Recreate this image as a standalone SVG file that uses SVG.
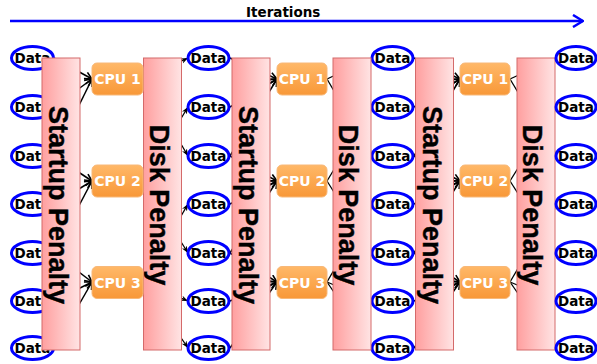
<svg xmlns="http://www.w3.org/2000/svg" width="597" height="364" viewBox="0 0 597 364">
  <style>
    .data ellipse { fill: #ffffff; stroke: #0000ff; stroke-width: 3; }
    .data text { font-family: "DejaVu Sans", Verdana, sans-serif; font-weight: bold; font-size: 13.5px; fill: #000; text-anchor: middle; }
    .penalty rect { fill: url(#pinkGrad); stroke: #d46a6a; stroke-width: 1; }
    .penalty text { font-family: "Liberation Sans", Arial, sans-serif; font-weight: bold; font-size: 27px; fill: #000; text-anchor: middle; stroke: #000; stroke-width: 0.4; }
    .cpu rect { fill: url(#orangeGrad); stroke: #f8b878; stroke-width: 1; }
    .cpu text { font-family: "DejaVu Sans", Verdana, sans-serif; font-weight: bold; font-size: 14px; fill: #ffffff; text-anchor: middle; }
    .in { stroke: #000; stroke-width: 1.5; fill: none; marker-end: url(#vee); }
    .out { stroke: #000; stroke-width: 1.3; fill: none; marker-end: url(#barb); }
    .title { font-family: "DejaVu Sans", Verdana, sans-serif; font-weight: bold; font-size: 13.5px; fill: #000; }
  </style>
  <defs>
    <linearGradient id="pinkGrad" x1="0" y1="0" x2="1" y2="0">
      <stop offset="0" stop-color="#ff9f9f"/>
      <stop offset="1" stop-color="#ffe4e4"/>
    </linearGradient>
    <linearGradient id="orangeGrad" x1="0" y1="0" x2="0" y2="1">
      <stop offset="0" stop-color="#ffb868"/>
      <stop offset="1" stop-color="#f89838"/>
    </linearGradient>
    <marker id="vee" viewBox="0 0 10 10" refX="9" refY="5" markerWidth="9" markerHeight="9" orient="auto" markerUnits="userSpaceOnUse">
      <path d="M1,1 L9,5 L1,9" fill="none" stroke="#000" stroke-width="1.8"/>
    </marker>
    <marker id="barb" viewBox="0 0 10 10" refX="10" refY="5" markerWidth="7" markerHeight="7" orient="auto" markerUnits="userSpaceOnUse">
      <path d="M0,1 L10,5 L0,9 L3,5 z" fill="#000"/>
    </marker>
    <marker id="blueHead" viewBox="0 0 12 14" refX="11" refY="7" markerWidth="12" markerHeight="14" orient="auto" markerUnits="userSpaceOnUse">
      <path d="M1,1 L11,7 L1,13" fill="none" stroke="#0000ff" stroke-width="2.5"/>
    </marker>
  </defs>

  <rect width="597" height="364" fill="#ffffff"/>

  <!-- iteration axis -->
  <g id="iterations">
    <text class="title" x="246" y="17">Iterations</text>
    <line x1="10" y1="21" x2="583" y2="21" stroke="#0000ff" stroke-width="2.5" marker-end="url(#blueHead)"/>
  </g>

  <!-- connectors (drawn first so the penalty bars cover their middle parts) -->
  <g id="connectors">
    <!-- data column 1 to CPUs A -->
    <path class="in" d="M54,58 L92,79"/>
    <path class="in" d="M54,107 L92,79"/>
    <path class="in" d="M54,156 L92,79"/>
    <path class="in" d="M54,156 L92,181"/>
    <path class="in" d="M54,204 L92,181"/>
    <path class="in" d="M54,253 L92,181"/>
    <path class="in" d="M54,253 L92,282"/>
    <path class="in" d="M54,301 L92,282"/>
    <path class="in" d="M54,348 L92,282"/>
    <!-- CPUs A to data column 2 -->
    <path class="out" d="M143,79 L188,58"/>
    <path class="out" d="M143,181 L188,107"/>
    <path class="out" d="M143,79 L188,156"/>
    <path class="out" d="M143,282 L188,204"/>
    <path class="out" d="M143,181 L188,253"/>
    <path class="out" d="M143,282 L188,301"/>
    <path class="out" d="M143,282 L188,348"/>
    <!-- data column 2 to CPUs B -->
    <path class="in" d="M230,58 L277,79"/>
    <path class="in" d="M230,107 L277,79"/>
    <path class="in" d="M230,156 L277,79"/>
    <path class="in" d="M230,156 L277,181"/>
    <path class="in" d="M230,204 L277,181"/>
    <path class="in" d="M230,253 L277,181"/>
    <path class="in" d="M230,253 L277,282"/>
    <path class="in" d="M230,301 L277,282"/>
    <path class="in" d="M230,348 L277,282"/>
    <!-- CPUs B to data column 3 -->
    <path class="out" d="M327,79 L372,58"/>
    <path class="out" d="M327,181 L372,107"/>
    <path class="out" d="M327,79 L372,156"/>
    <path class="out" d="M327,282 L372,204"/>
    <path class="out" d="M327,181 L372,253"/>
    <path class="out" d="M327,282 L372,301"/>
    <path class="out" d="M327,282 L372,348"/>
    <!-- data column 3 to CPUs C -->
    <path class="in" d="M414,58 L460,79"/>
    <path class="in" d="M414,107 L460,79"/>
    <path class="in" d="M414,156 L460,79"/>
    <path class="in" d="M414,156 L460,181"/>
    <path class="in" d="M414,204 L460,181"/>
    <path class="in" d="M414,253 L460,181"/>
    <path class="in" d="M414,253 L460,282"/>
    <path class="in" d="M414,301 L460,282"/>
    <path class="in" d="M414,348 L460,282"/>
    <!-- CPUs C to data column 4 -->
    <path class="out" d="M510,79 L556,58"/>
    <path class="out" d="M510,181 L556,107"/>
    <path class="out" d="M510,79 L556,156"/>
    <path class="out" d="M510,282 L556,204"/>
    <path class="out" d="M510,181 L556,253"/>
    <path class="out" d="M510,282 L556,301"/>
    <path class="out" d="M510,282 L556,348"/>
  </g>

  <!-- data column 1 -->
  <g id="data-1-1" class="data"><ellipse cx="32.5" cy="58" rx="21" ry="11.5"/><text x="32.5" y="62.5">Data</text></g>
  <g id="data-1-2" class="data"><ellipse cx="32.5" cy="107" rx="21" ry="11.5"/><text x="32.5" y="111.5">Data</text></g>
  <g id="data-1-3" class="data"><ellipse cx="32.5" cy="156" rx="21" ry="11.5"/><text x="32.5" y="160.5">Data</text></g>
  <g id="data-1-4" class="data"><ellipse cx="32.5" cy="204" rx="21" ry="11.5"/><text x="32.5" y="208.5">Data</text></g>
  <g id="data-1-5" class="data"><ellipse cx="32.5" cy="253" rx="21" ry="11.5"/><text x="32.5" y="257.5">Data</text></g>
  <g id="data-1-6" class="data"><ellipse cx="32.5" cy="301" rx="21" ry="11.5"/><text x="32.5" y="305.5">Data</text></g>
  <g id="data-1-7" class="data"><ellipse cx="32.5" cy="348" rx="21" ry="11.5"/><text x="32.5" y="352.5">Data</text></g>

  <!-- data column 2 -->
  <g id="data-2-1" class="data"><ellipse cx="208.5" cy="58" rx="20.5" ry="11.5"/><text x="208.5" y="62.5">Data</text></g>
  <g id="data-2-2" class="data"><ellipse cx="208.5" cy="107" rx="20.5" ry="11.5"/><text x="208.5" y="111.5">Data</text></g>
  <g id="data-2-3" class="data"><ellipse cx="208.5" cy="156" rx="20.5" ry="11.5"/><text x="208.5" y="160.5">Data</text></g>
  <g id="data-2-4" class="data"><ellipse cx="208.5" cy="204" rx="20.5" ry="11.5"/><text x="208.5" y="208.5">Data</text></g>
  <g id="data-2-5" class="data"><ellipse cx="208.5" cy="253" rx="20.5" ry="11.5"/><text x="208.5" y="257.5">Data</text></g>
  <g id="data-2-6" class="data"><ellipse cx="208.5" cy="301" rx="20.5" ry="11.5"/><text x="208.5" y="305.5">Data</text></g>
  <g id="data-2-7" class="data"><ellipse cx="208.5" cy="348" rx="20.5" ry="11.5"/><text x="208.5" y="352.5">Data</text></g>

  <!-- data column 3 -->
  <g id="data-3-1" class="data"><ellipse cx="392.5" cy="58" rx="20.5" ry="11.5"/><text x="392.5" y="62.5">Data</text></g>
  <g id="data-3-2" class="data"><ellipse cx="392.5" cy="107" rx="20.5" ry="11.5"/><text x="392.5" y="111.5">Data</text></g>
  <g id="data-3-3" class="data"><ellipse cx="392.5" cy="156" rx="20.5" ry="11.5"/><text x="392.5" y="160.5">Data</text></g>
  <g id="data-3-4" class="data"><ellipse cx="392.5" cy="204" rx="20.5" ry="11.5"/><text x="392.5" y="208.5">Data</text></g>
  <g id="data-3-5" class="data"><ellipse cx="392.5" cy="253" rx="20.5" ry="11.5"/><text x="392.5" y="257.5">Data</text></g>
  <g id="data-3-6" class="data"><ellipse cx="392.5" cy="301" rx="20.5" ry="11.5"/><text x="392.5" y="305.5">Data</text></g>
  <g id="data-3-7" class="data"><ellipse cx="392.5" cy="348" rx="20.5" ry="11.5"/><text x="392.5" y="352.5">Data</text></g>

  <!-- penalty bars -->
  <g id="startup-1" class="penalty"><rect x="42" y="58" width="38" height="292"/><text transform="translate(49,205) rotate(90)">Startup Penalty</text></g>
  <g id="disk-1" class="penalty"><rect x="143.5" y="58" width="38" height="292"/><text transform="translate(149.5,205) rotate(90)">Disk Penalty</text></g>
  <g id="startup-2" class="penalty"><rect x="232" y="58" width="38" height="292"/><text transform="translate(239,205) rotate(90)">Startup Penalty</text></g>
  <g id="disk-2" class="penalty"><rect x="333" y="58" width="38" height="292"/><text transform="translate(339,205) rotate(90)">Disk Penalty</text></g>
  <g id="startup-3" class="penalty"><rect x="415.5" y="58" width="38" height="292"/><text transform="translate(422.5,205) rotate(90)">Startup Penalty</text></g>
  <g id="disk-3" class="penalty"><rect x="517" y="58" width="38" height="292"/><text transform="translate(523,205) rotate(90)">Disk Penalty</text></g>

  <!-- data column 4 -->
  <g id="data-4-1" class="data"><ellipse cx="576" cy="58" rx="20" ry="11.5"/><text x="576" y="62.5">Data</text></g>
  <g id="data-4-2" class="data"><ellipse cx="576" cy="107" rx="20" ry="11.5"/><text x="576" y="111.5">Data</text></g>
  <g id="data-4-3" class="data"><ellipse cx="576" cy="156" rx="20" ry="11.5"/><text x="576" y="160.5">Data</text></g>
  <g id="data-4-4" class="data"><ellipse cx="576" cy="204" rx="20" ry="11.5"/><text x="576" y="208.5">Data</text></g>
  <g id="data-4-5" class="data"><ellipse cx="576" cy="253" rx="20" ry="11.5"/><text x="576" y="257.5">Data</text></g>
  <g id="data-4-6" class="data"><ellipse cx="576" cy="301" rx="20" ry="11.5"/><text x="576" y="305.5">Data</text></g>
  <g id="data-4-7" class="data"><ellipse cx="576" cy="348" rx="20" ry="11.5"/><text x="576" y="352.5">Data</text></g>

  <!-- CPU boxes -->
  <g id="cpu-a1" class="cpu"><rect x="92" y="63" width="51" height="32" rx="5"/><text x="117.5" y="84">CPU 1</text></g>
  <g id="cpu-a2" class="cpu"><rect x="92" y="165" width="51" height="32" rx="5"/><text x="117.5" y="186">CPU 2</text></g>
  <g id="cpu-a3" class="cpu"><rect x="92" y="266.5" width="51" height="32" rx="5"/><text x="117.5" y="287.5">CPU 3</text></g>
  <g id="cpu-b1" class="cpu"><rect x="277" y="63" width="50" height="32" rx="5"/><text x="302" y="84">CPU 1</text></g>
  <g id="cpu-b2" class="cpu"><rect x="277" y="165" width="50" height="32" rx="5"/><text x="302" y="186">CPU 2</text></g>
  <g id="cpu-b3" class="cpu"><rect x="277" y="266.5" width="50" height="32" rx="5"/><text x="302" y="287.5">CPU 3</text></g>
  <g id="cpu-c1" class="cpu"><rect x="460" y="63" width="50" height="32" rx="5"/><text x="485" y="84">CPU 1</text></g>
  <g id="cpu-c2" class="cpu"><rect x="460" y="165" width="50" height="32" rx="5"/><text x="485" y="186">CPU 2</text></g>
  <g id="cpu-c3" class="cpu"><rect x="460" y="266.5" width="50" height="32" rx="5"/><text x="485" y="287.5">CPU 3</text></g>
</svg>
